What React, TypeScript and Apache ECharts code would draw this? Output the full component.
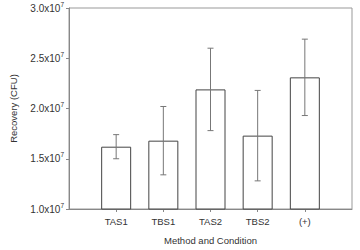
import React, { useEffect, useRef } from "react";
import * as echarts from "echarts";

const categories = ["", "TAS1", "TBS1", "TAS2", "TBS2", "(+)", ""];
const means = [null, 1.62e7, 1.68e7, 2.19e7, 1.73e7, 2.31e7, null];
const errors = [null, 0.12e7, 0.34e7, 0.41e7, 0.45e7, 0.38e7, null];
const yTicks = [1.0e7, 1.5e7, 2.0e7, 2.5e7, 3.0e7];

export default function App() {
  const ref = useRef<HTMLDivElement>(null);
  useEffect(() => {
    const chart = echarts.init(ref.current!, null, { renderer: "svg" });
    const errData = means
      .map((m, i) => (m == null ? null : [i, (m as number) - (errors[i] as number), (m as number) + (errors[i] as number)]))
      .filter((d) => d != null);
    const font = "Liberation Sans, Arial, sans-serif";
    chart.setOption({
      animation: false,
      textStyle: { fontFamily: font },
      grid: { left: 58, right: 8, top: 8, bottom: 37, show: true, borderColor: "#999", borderWidth: 1 },
      xAxis: {
        type: "category",
        data: categories,
        boundaryGap: false,
        name: "Method and Condition",
        nameLocation: "middle",
        nameGap: 26,
        nameTextStyle: { fontSize: 9.5, color: "#333", fontFamily: font },
        axisLine: { lineStyle: { color: "#888", width: 1 } },
        axisTick: { length: 3, lineStyle: { color: "#888" }, interval: (i: number) => i > 0 && i < categories.length - 1 },
        axisLabel: { fontSize: 9.5, color: "#333", margin: 7, interval: 0, fontFamily: font },
        splitLine: { show: false },
      },
      yAxis: {
        type: "value",
        min: 1.0e7,
        max: 3.0e7,
        interval: 0.5e7,
        name: "Recovery (CFU)",
        nameLocation: "middle",
        nameGap: 51,
        nameTextStyle: { fontSize: 9.5, color: "#333", fontFamily: font },
        axisLine: { show: true, lineStyle: { color: "#888", width: 1 } },
        axisTick: { show: true, length: 3, lineStyle: { color: "#888" } },
        splitLine: { show: false },
        axisLabel: {
          margin: 5,
          formatter: (v: number) => {
            const t = yTicks.find((x) => Math.abs(x - v) < 1) ?? v;
            return "{b|" + (t / 1e7).toFixed(1) + "x10}{s|7}";
          },
          rich: {
            b: { fontSize: 10, color: "#333", fontFamily: font },
            s: { fontSize: 6.5, color: "#333", fontFamily: font, padding: [0, 0, 8, 0] },
          },
        },
      },
      series: [
        {
          type: "bar",
          data: means.map((m) => (m == null ? "-" : m)),
          barWidth: 30,
          itemStyle: { color: "#fff", borderColor: "#444", borderWidth: 1 },
          z: 2,
        },
        {
          type: "custom",
          data: errData,
          z: 3,
          renderItem: (params: any, api: any) => {
            const x = api.value(0);
            const lo = api.coord([x, api.value(1)]);
            const hi = api.coord([x, api.value(2)]);
            const w = 3;
            const style = { stroke: "#777", lineWidth: 1 };
            return {
              type: "group",
              children: [
                { type: "line", shape: { x1: hi[0], y1: hi[1], x2: lo[0], y2: lo[1] }, style },
                { type: "line", shape: { x1: hi[0] - w, y1: hi[1], x2: hi[0] + w, y2: hi[1] }, style },
                { type: "line", shape: { x1: lo[0] - w, y1: lo[1], x2: lo[0] + w, y2: lo[1] }, style },
              ],
            };
          },
        },
      ],
    });
    return () => chart.dispose();
  }, []);
  return <div ref={ref} style={{ width: 360, height: 250, position: "absolute", left: 0, top: 0 }} />;
}
